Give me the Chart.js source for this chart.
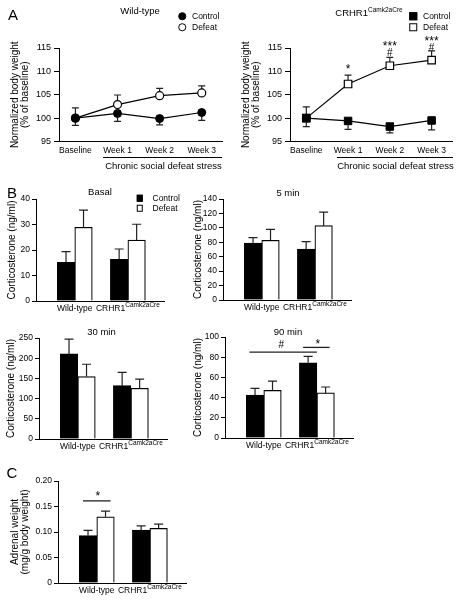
<!DOCTYPE html>
<html lang="en">
<head>
<meta charset="utf-8">
<title>Body weight, corticosterone and adrenal weight</title>
<script src="https://cdn.jsdelivr.net/npm/chart.js"></script>
<style>
  body { margin: 0; background: #fff; }
  #fig { position: relative; width: 462px; height: 600px; overflow: hidden;
         font-family: "Liberation Sans", Arial, Helvetica, sans-serif; color: #000; }
  #fig canvas { position: absolute; }
  .t { position: absolute; white-space: nowrap; line-height: 1; font-size: 9.5px; }
  .c { transform: translate(-50%, -50%); }
  .l { transform: translateY(-50%); font-size: 8.5px; }
  .big { font-size: 15px; }
  .t sup { font-size: 6.5px; vertical-align: 0; position: relative; top: -4px; }
  .mk { position: absolute; width: 7.5px; height: 7.5px; box-sizing: border-box;
        border: 1.2px solid #000; background: #fff; transform: translate(-50%, -50%); }
  .mk.f { background: #000; }
  .mk.r { border-radius: 50%; }
  .mk.s { width: 6.5px; height: 6.5px; }
  .rule { position: absolute; height: 1.5px; background: #000; }
</style>
</head>
<body>
<div id="fig">
  <canvas id="wtWeight"></canvas>
  <canvas id="creWeight"></canvas>
  <canvas id="basal"></canvas>
  <canvas id="min5"></canvas>
  <canvas id="min30"></canvas>
  <canvas id="min90"></canvas>
  <canvas id="adrenal"></canvas>

  <div class="t c big" style="left:13px;top:14px">A</div>
  <div class="t c" style="left:140px;top:11px">Wild-type</div>
  <div class="mk r f" style="left:182px;top:16px"></div>
  <div class="t l" style="left:192px;top:16px">Control</div>
  <div class="mk r" style="left:182px;top:27px"></div>
  <div class="t l" style="left:192px;top:27px">Defeat</div>
  <div class="t c" style="left:369px;top:13px">CRHR1<sup>Camk2aCre</sup></div>
  <div class="mk f" style="left:413px;top:16px"></div>
  <div class="t l" style="left:423px;top:16px">Control</div>
  <div class="mk" style="left:413px;top:27px"></div>
  <div class="t l" style="left:423px;top:27px">Defeat</div>
  <div class="rule" style="left:103px;top:156.5px;width:119px"></div>
  <div class="t c" style="left:163.5px;top:166px">Chronic social defeat stress</div>
  <div class="rule" style="left:337px;top:156.5px;width:116px"></div>
  <div class="t c" style="left:395.5px;top:165.5px">Chronic social defeat stress</div>

  <div class="t c big" style="left:12px;top:192px">B</div>
  <div class="t c" style="left:100px;top:192px">Basal</div>
  <div class="mk s f" style="left:139.5px;top:198px"></div>
  <div class="t l" style="left:152.5px;top:197.5px">Control</div>
  <div class="mk s" style="left:139.5px;top:208px"></div>
  <div class="t l" style="left:152.5px;top:207.5px">Defeat</div>
  <div class="t c" style="left:288px;top:193px">5 min</div>
  <div class="t c" style="left:101.5px;top:332px">30 min</div>
  <div class="t c" style="left:288px;top:332px">90 min</div>

  <div class="t c big" style="left:12px;top:472px">C</div>
</div>

<script>
// ---- A: normalized body weight (% of baseline) ----
const weekLabels = ['Baseline', 'Week 1', 'Week 2', 'Week 3'];
const wtControl = [100, 101.0, 99.9, 101.2];
const wtControlSem = [1.55, 1.7, 1.35, 1.7];
const wtDefeat = [100, 102.9, 104.8, 105.4];
const wtDefeatSem = [2.2, 2.05, 1.55, 1.5];
const creControl = [100, 99.4, 98.2, 99.5];
const creControlSem = [1.8, 1.8, 1.35, 2.0];
const creDefeat = [100, 107.3, 111.2, 112.4];
const creDefeatSem = [2.4, 1.9, 1.8, 2.0];
// significance marks over CRHR1 defeat: [week, value, text]
const creMarks = [[1, 111, '*'], [2, 113.9, '#'], [2, 116.0, '***'], [3, 114.9, '#'], [3, 116.9, '***']];

// ---- B: corticosterone (ng/ml), C: adrenal weight ----
const groups = ['Wild-type', 'CRHR1'];
const groupSup = ['', 'Camk2aCre'];
const basalControl = [15.2, 16.3];
const basalControlSem = [4.2, 4.1];
const basalDefeat = [28.9, 23.9];
const basalDefeatSem = [6.7, 6.2];
const min5Control = [79, 70.6];
const min5ControlSem = [7.5, 10.4];
const min5Defeat = [82.7, 103];
const min5DefeatSem = [15.3, 18.8];
const min30Control = [210.6, 132];
const min30ControlSem = [36.4, 33];
const min30Defeat = [154.6, 125.6];
const min30DefeatSem = [30.4, 22.4];
const min90Control = [42.6, 74.5];
const min90ControlSem = [6.5, 6.3];
const min90Defeat = [47.1, 44.6];
const min90DefeatSem = [9.3, 5.9];
const adrenalControl = [0.093, 0.1037];
const adrenalControlSem = [0.010, 0.0083];
const adrenalDefeat = [0.1298, 0.107];
const adrenalDefeatSem = [0.011, 0.0084];
// brackets [from, to, value] and marks [x, value, text]
const min90Lines = [[-0.27, 1.0, 85.1], [0.74, 1.24, 89.7]];
const min90Marks = [[0.33, 91.5, '#'], [1.02, 95.5, '*']];
const adrenalLines = [[-0.26, 0.26, 0.161]];
const adrenalMarks = [[0.02, 0.176, '*']];

const FONT = '"Liberation Sans", Arial, Helvetica, sans-serif';
Chart.defaults.font.family = FONT;
Chart.defaults.color = '#000';
Chart.defaults.animation = false;
Chart.defaults.plugins.legend.display = false;
Chart.defaults.plugins.tooltip.enabled = false;

// one-sided SEM whiskers
Chart.register({
    id: 'errorBars',
    beforeDatasetsDraw(chart, args, opts) {
        const ctx = chart.ctx, ys = chart.scales.y;
        const cap = opts.cap || 8;
        ctx.save();
        ctx.strokeStyle = '#222';
        ctx.lineWidth = 1.2;
        chart.data.datasets.forEach((ds, i) => {
            if (!ds.sem) return;
            const meta = chart.getDatasetMeta(i);
            meta.data.forEach((el, j) => {
                const v = meta.controller.getParsed(j).y;
                const y0 = ys.getPixelForValue(v);
                const y1 = ys.getPixelForValue(v + ds.semDir * ds.sem[j]);
                ctx.beginPath();
                ctx.moveTo(el.x, y0);
                ctx.lineTo(el.x, y1);
                ctx.moveTo(el.x - cap / 2, y1);
                ctx.lineTo(el.x + cap / 2, y1);
                ctx.stroke();
            });
        });
        ctx.restore();
    }
});

// significance brackets and symbols
Chart.register({
    id: 'sigMarks',
    afterDatasetsDraw(chart, args, opts) {
        const ctx = chart.ctx, xs = chart.scales.x, ys = chart.scales.y;
        ctx.save();
        ctx.strokeStyle = '#222';
        ctx.lineWidth = 1.3;
        (opts.lines || []).forEach(([a, b, v]) => {
            const y = ys.getPixelForValue(v);
            ctx.beginPath();
            ctx.moveTo(xs.getPixelForValue(a), y);
            ctx.lineTo(xs.getPixelForValue(b), y);
            ctx.stroke();
        });
        ctx.fillStyle = '#000';
        ctx.textAlign = 'center';
        ctx.textBaseline = 'middle';
        (opts.marks || []).forEach(([x, v, t]) => {
            const star = t.indexOf('*') >= 0;
            const size = star ? 12 : 10;
            ctx.font = size + 'px ' + FONT;
            ctx.fillText(t, xs.getPixelForValue(x), ys.getPixelForValue(v) + (star ? size * 0.25 : 0));
        });
        ctx.restore();
    }
});

// group names under bar panels, with superscript allele
Chart.register({
    id: 'groupLabels',
    afterDraw(chart, args, opts) {
        if (!opts.names) return;
        const ctx = chart.ctx, xs = chart.scales.x;
        const base = chart.chartArea.bottom + 10;
        ctx.save();
        ctx.fillStyle = '#000';
        ctx.textBaseline = 'alphabetic';
        ctx.textAlign = 'left';
        opts.names.forEach((name, i) => {
            const sup = opts.sups[i] || '';
            ctx.font = '8.5px ' + FONT;
            const w1 = ctx.measureText(name).width;
            ctx.font = '6.5px ' + FONT;
            const w2 = sup ? ctx.measureText(sup).width : 0;
            const x0 = xs.getPixelForValue(i) - (w1 + w2) / 2;
            ctx.font = '8.5px ' + FONT;
            ctx.fillText(name, x0, base);
            if (sup) {
                ctx.font = '6.5px ' + FONT;
                ctx.fillText(sup, x0 + w1, base - 4);
            }
        });
        ctx.restore();
    }
});

function place(id, box) {
    const c = document.getElementById(id);
    c.width = box.w;
    c.height = box.h;
    c.style.left = box.left + 'px';
    c.style.top = box.top + 'px';
    c.style.width = box.w + 'px';
    c.style.height = box.h + 'px';
    return c;
}

function yAxis(o) {
    return {
        min: o.min, max: o.max,
        ticks: { stepSize: o.step, font: { size: o.tickSize }, padding: o.tickPad, callback: o.fmt },
        grid: { display: true, drawOnChartArea: false, drawTicks: true, tickLength: o.tickLen, color: '#000', lineWidth: 1 },
        border: { display: true, color: '#000', width: 1 },
        title: { display: true, text: o.title, font: { size: 10, lineHeight: o.lh }, padding: { top: o.titlePad, bottom: 0 } },
        afterFit(s) { s.width = o.yW; }
    };
}

function weightPanel(id, box, ctrl, ctrlSem, def, defSem, shape, marks) {
    const r = shape === 'rect' ? 5.3 : 4;
    return new Chart(place(id, box), {
        type: 'line',
        data: {
            datasets: [
                { label: 'Control', data: ctrl.map((v, i) => ({ x: i, y: v })), sem: ctrlSem, semDir: -1,
                  borderColor: '#000', borderWidth: 1.2, pointStyle: shape, pointRadius: r,
                  pointBackgroundColor: '#000', pointBorderColor: '#000', pointBorderWidth: 1 },
                { label: 'Defeat', data: def.map((v, i) => ({ x: i, y: v })), sem: defSem, semDir: 1,
                  borderColor: '#000', borderWidth: 1.2, pointStyle: shape, pointRadius: r,
                  pointBackgroundColor: '#fff', pointBorderColor: '#000', pointBorderWidth: 1.2 }
            ]
        },
        options: {
            responsive: false,
            layout: { padding: { top: box.padTop, right: box.padRight, left: 0, bottom: 0 } },
            scales: {
                x: {
                    type: 'linear', min: -0.39, max: 3.5, offset: false,
                    ticks: { stepSize: 1, includeBounds: false, autoSkip: false, maxRotation: 0,
                             font: { size: 8.5 }, padding: 4, callback: v => weekLabels[v] },
                    grid: { display: false, drawTicks: false },
                    border: { display: true, color: '#000', width: 1 },
                    afterFit(s) { s.height = box.xH; }
                },
                y: yAxis({ min: 95, max: 115, step: 5, tickSize: 9, tickPad: 3, tickLen: 5,
                           title: ['Normalized body weight', '(% of baseline)'], lh: 1.05,
                           titlePad: 9.75, yW: box.yW })
            },
            plugins: { errorBars: { cap: 7 }, sigMarks: { marks: marks || [] } }
        }
    });
}

function barPanel(id, box, y, ctrl, ctrlSem, def, defSem, sig) {
    return new Chart(place(id, box), {
        type: 'bar',
        data: {
            datasets: [
                { label: 'Control', data: ctrl.map((v, i) => ({ x: i, y: v })), sem: ctrlSem, semDir: 1,
                  backgroundColor: '#000', borderColor: '#000', borderWidth: 1, barThickness: 17.5 },
                { label: 'Defeat', data: def.map((v, i) => ({ x: i, y: v })), sem: defSem, semDir: 1,
                  backgroundColor: '#fff', borderColor: '#000', borderWidth: 1.2, barThickness: 17.5 }
            ]
        },
        options: {
            responsive: false,
            layout: { padding: { top: box.padTop, right: 4, left: 0, bottom: 0 } },
            scales: {
                x: {
                    type: 'linear', min: -0.73, max: 1.68, offset: false,
                    ticks: { display: false },
                    grid: { display: false, drawTicks: false },
                    border: { display: true, color: '#000', width: 1 },
                    afterFit(s) { s.height = box.xH; }
                },
                y: yAxis(Object.assign({ tickSize: 8.5, tickPad: 2, tickLen: 4, yW: box.yW }, y))
            },
            plugins: {
                errorBars: { cap: 9 },
                sigMarks: sig || {},
                groupLabels: { names: groups, sups: groupSup }
            }
        }
    });
}

weightPanel('wtWeight', { left: 0, top: 0, w: 228, h: 162, padTop: 48, padRight: 4.3, yW: 59, xH: 20.5 },
    wtControl, wtControlSem, wtDefeat, wtDefeatSem, 'circle');
weightPanel('creWeight', { left: 231, top: 0, w: 228, h: 162, padTop: 48, padRight: 4.3, yW: 59, xH: 20.5 },
    creControl, creControlSem, creDefeat, creDefeatSem, 'rect', creMarks);

const cortTitle = 'Corticosterone (ng/ml)';
barPanel('basal', { left: 0, top: 189, w: 168, h: 130, padTop: 10, yW: 36, xH: 18 },
    { min: 0, max: 40, step: 10, title: cortTitle, lh: 1.1, titlePad: 6.5 },
    basalControl, basalControlSem, basalDefeat, basalDefeatSem);
barPanel('min5', { left: 187, top: 189, w: 168, h: 129, padTop: 10, yW: 36, xH: 18 },
    { min: 0, max: 140, step: 20, title: cortTitle, lh: 1.1, titlePad: 5.8 },
    min5Control, min5ControlSem, min5Defeat, min5DefeatSem);
barPanel('min30', { left: 3, top: 328, w: 168, h: 129, padTop: 10, yW: 36, xH: 18 },
    { min: 0, max: 250, step: 50, title: cortTitle, lh: 1.1, titlePad: 3.2 },
    min30Control, min30ControlSem, min30Defeat, min30DefeatSem);
barPanel('min90', { left: 189, top: 327, w: 168, h: 129, padTop: 10, yW: 36, xH: 18 },
    { min: 0, max: 100, step: 20, title: cortTitle, lh: 1.1, titlePad: 3.8 },
    min90Control, min90ControlSem, min90Defeat, min90DefeatSem,
    { lines: min90Lines, marks: min90Marks });
barPanel('adrenal', { left: 0, top: 471, w: 190, h: 130, padTop: 10, yW: 58, xH: 18 },
    { min: 0, max: 0.2, step: 0.05, title: ['Adrenal weight', '(mg/g body weight)'], lh: 1.05, titlePad: 9.75,
      fmt: v => v === 0 ? '0' : v.toFixed(2) },
    adrenalControl, adrenalControlSem, adrenalDefeat, adrenalDefeatSem,
    { lines: adrenalLines, marks: adrenalMarks });
</script>
</body>
</html>
